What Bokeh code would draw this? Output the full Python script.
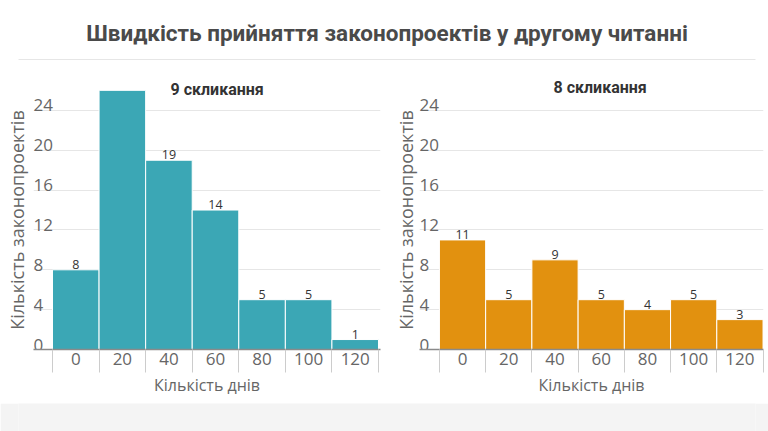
from bokeh.plotting import figure
from bokeh.models import Range1d, FixedTicker, ColumnDataSource
from bokeh.layouts import column, row
from bokeh.embed import file_html
from bokeh.resources import INLINE
from bokeh.core.properties import value

# ---- data ----
title_text = "Швидкість прийняття законопроектів у другому читанні"
bins = [0, 20, 40, 60, 80, 100, 120]
bin_width = 20
counts_9 = [8, 26, 19, 14, 5, 5, 1]
counts_8 = [11, 5, 9, 5, 4, 5, 3]
y_ticks = [0, 4, 8, 12, 16, 20, 24]
x_label = "Кількість днів"
y_label = "Кількість законопроектів"
panel_titles = ["9 скликання", "8 скликання"]
colors = ["#3ba7b5", "#e2910f"]

Y_END = 26
LABEL_FONT = "Open Sans"
TITLE_FONT = "Roboto"


def make_panel(counts, ptitle, color, width, bl, br, x_start, x_end,
               t_offset, t_standoff, ylab_standoff):
    p = figure(width=width, height=338,
               x_range=Range1d(x_start, x_end), y_range=Range1d(0, Y_END),
               toolbar_location=None, output_backend="svg",
               min_border_left=bl, min_border_right=br,
               min_border_top=25, min_border_bottom=54)
    p.outline_line_color = None
    p.background_fill_color = "white"
    p.border_fill_color = "white"

    # title
    p.title.text = ptitle
    p.title.align = "left"
    p.title.offset = t_offset
    p.title.standoff = t_standoff
    p.title.text_font = TITLE_FONT
    p.title.text_font_style = "bold"
    p.title.text_font_size = "16px"
    p.title.text_color = "#333333"

    # grid
    p.xgrid.visible = False
    p.ygrid.ticker = FixedTicker(ticks=y_ticks)
    p.ygrid.grid_line_color = "#e6e6e6"
    p.ygrid.grid_line_width = 1

    # bars
    src = ColumnDataSource(dict(x=bins, top=counts))
    p.vbar(x="x", top="top", bottom=0, width=bin_width, source=src,
           fill_color=color, line_color="white", line_width=1)

    # value labels (only those inside plotting area)
    lx = [b for b, c in zip(bins, counts) if c < Y_END - 1]
    ly = [c for c in counts if c < Y_END - 1]
    lsrc = ColumnDataSource(dict(x=lx, y=ly, t=[str(c) for c in ly]))
    p.text(x="x", y="y", text="t", source=lsrc, text_align="center",
           text_baseline="bottom", y_offset=-1,
           text_font=value(LABEL_FONT), text_font_size="12.5px",
           text_color="#333333")

    # y tick labels, left-aligned above grid lines inside the plot area
    ysrc = ColumnDataSource(dict(x=[x_start] * len(y_ticks), y=y_ticks,
                                 t=[str(t) for t in y_ticks]))
    p.text(x="x", y="y", text="t", source=ysrc, text_align="left",
           text_baseline="bottom", x_offset=0, y_offset=1,
           text_font=value(LABEL_FONT), text_font_size="17px",
           text_color="#666666")

    # y axis (title only)
    ya = p.yaxis[0]
    ya.ticker = FixedTicker(ticks=[])
    ya.axis_line_color = None
    ya.major_tick_out = 0
    ya.major_tick_in = 0
    ya.minor_tick_out = 0
    ya.minor_tick_in = 0
    ya.major_label_standoff = 0
    ya.axis_label = y_label
    ya.axis_label_standoff = ylab_standoff
    ya.axis_label_text_font = LABEL_FONT
    ya.axis_label_text_font_size = "18px"
    ya.axis_label_text_font_style = "normal"
    ya.axis_label_text_color = "#666666"

    # x axis
    xa = p.xaxis[0]
    edges = [b - bin_width / 2 for b in bins] + [bins[-1] + bin_width / 2]
    xa.ticker = FixedTicker(ticks=bins, minor_ticks=edges)
    xa.axis_line_color = "#8a8a8a"
    xa.axis_line_width = 1.5
    xa.major_tick_out = 0
    xa.major_tick_in = 0
    xa.minor_tick_in = 0
    xa.minor_tick_out = 23
    xa.minor_tick_line_color = "#cccccc"
    xa.minor_tick_line_width = 1
    xa.major_label_standoff = -20
    xa.major_label_text_font = LABEL_FONT
    xa.major_label_text_font_size = "17px"
    xa.major_label_text_color = "#666666"
    xa.axis_label = x_label
    xa.axis_label_standoff = 6
    xa.axis_label_text_font = LABEL_FONT
    xa.axis_label_text_font_size = "16px"
    xa.axis_label_text_font_style = "normal"
    xa.axis_label_text_color = "#666666"
    return p


p1 = make_panel(counts_9, panel_titles[0], colors[0], 390, 33, 10,
                -18.16, 130.86, 137, -17, 5)
p2 = make_panel(counts_8, panel_titles[1], colors[1], 378, 28, 5,
                -18.62, 130.2, 134, -13, 2)

# header with main title and a thin rule
header = figure(width=768, height=65, x_range=Range1d(0, 1), y_range=Range1d(0, 1),
                toolbar_location=None, output_backend="svg",
                min_border_left=18, min_border_right=13,
                min_border_top=50, min_border_bottom=6)
header.outline_line_color = None
header.grid.visible = False
header.yaxis.visible = False
header.title.text = title_text
header.title.align = "center"
header.title.text_font = TITLE_FONT
header.title.text_font_style = "bold"
header.title.text_font_size = "22.5px"
header.title.text_color = "#4a4a4a"
hx = header.xaxis[0]
hx.ticker = FixedTicker(ticks=[])
hx.major_tick_out = 0
hx.major_tick_in = 0
hx.minor_tick_out = 0
hx.minor_tick_in = 0
hx.major_label_standoff = 0
hx.axis_line_color = "#e6e6e6"
hx.axis_line_width = 1

# footer band
footer = figure(width=768, height=28, x_range=Range1d(0, 1), y_range=Range1d(0, 1),
                toolbar_location=None, output_backend="svg",
                min_border=0)
footer.outline_line_color = None
footer.grid.visible = False
footer.axis.visible = False
footer.background_fill_color = "#f4f4f4"
footer.border_fill_color = "#f4f4f4"

layout = column(header, row(p1, p2), footer)
open("out.html", "w").write(file_html(layout, INLINE))
